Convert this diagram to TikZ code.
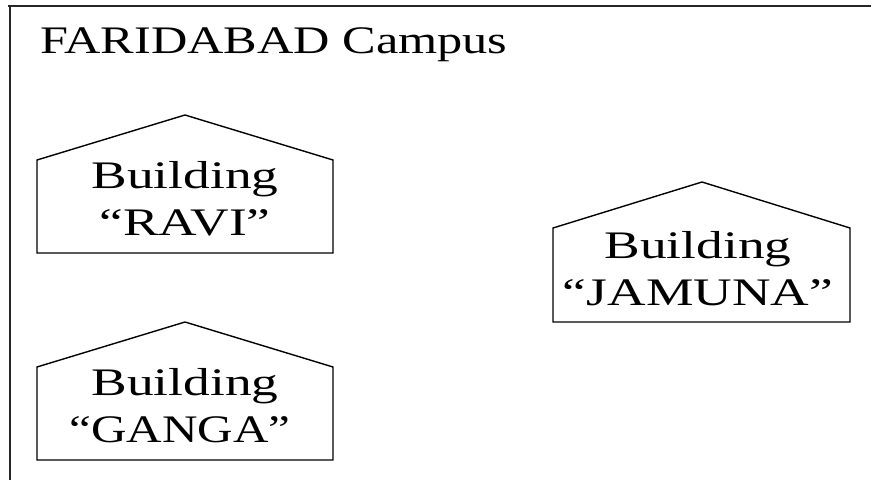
\documentclass[tikz,border=0pt]{standalone}
\usepackage{fontspec}
\setmainfont{Liberation Serif}
\usepackage{graphicx}
\newcommand\widetxt[1]{\scalebox{1.37}[1]{#1}}
\newcommand\headtxt[1]{\scalebox{1.29}[1]{#1}}
\tikzset{
  frameline/.style={line width=2pt, black!85},
  house/.style={line width=1.4pt, line join=miter},
  lbl/.style={font=\fontsize{39}{41}\selectfont, inner sep=0pt, anchor=base},
}
\begin{document}
\begin{tikzpicture}[x=1pt, y=-1pt]
\useasboundingbox (0,0) rectangle (871,480);
\fill[white] (0,0) rectangle (871,480);
% campus frame
\draw[frameline] (8,6) -- (871,6);
\draw[frameline] (10,5) -- (10,480);
\node[lbl, anchor=base west] (title) at (40,53) {\headtxt{FARIDABAD Campus}};
% building outlines
\draw[house] (37,253) -- (37,160) -- (185,115) -- (333,160) -- (333,253) -- cycle;
\draw[house] (553,322) -- (553,228) -- (702,182) -- (850,228) -- (850,322) -- cycle;
\draw[house] (37,460) -- (37,367) -- (185,322) -- (333,367) -- (333,460) -- cycle;
% building names
\node[lbl] (raviA) at (185,188) {\widetxt{Building}};
\node[lbl] (raviB) at (185,235) {\widetxt{“RAVI”}};
\node[lbl] (jamA) at (698,258) {\widetxt{Building}};
\node[lbl] (jamB) at (698,305) {\widetxt{“JAMUNA”}};
\node[lbl] (gangA) at (185,395) {\widetxt{Building}};
\node[lbl] (gangB) at (180,442) {\scalebox{1.26}[1]{“GANGA”}};
\end{tikzpicture}
\end{document}
